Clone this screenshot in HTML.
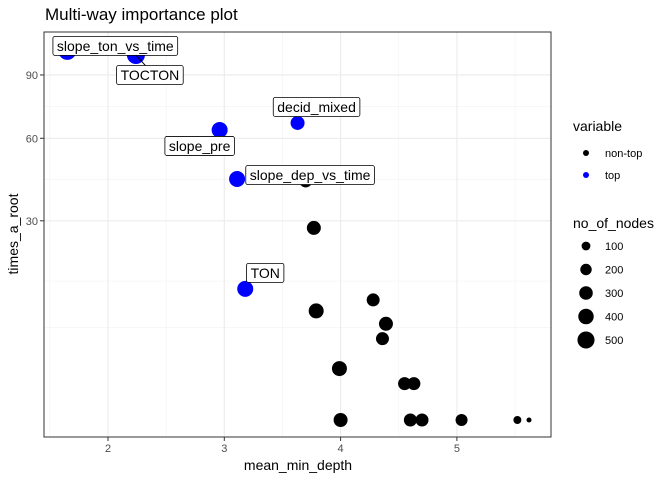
<!DOCTYPE html>
<html><head><meta charset="utf-8"><style>
body{margin:0;background:#fff;font-family:"Liberation Sans",sans-serif}
svg text{font-family:"Liberation Sans",sans-serif}
</style></head><body>
<svg id="chart" width="672" height="480" xmlns="http://www.w3.org/2000/svg">
<text x="45" y="20" font-size="17" fill="#000">Multi-way importance plot</text>
<g id="grid"></g>
<g id="pts"></g>
<g id="labels"></g>
<rect x="44" y="32" width="507" height="405" fill="none" stroke="#333" stroke-width="1"/>
<g id="axes"></g>
<text x="298" y="470" font-size="14" text-anchor="middle">mean_min_depth</text>
<text transform="translate(18,234) rotate(-90)" font-size="14" text-anchor="middle">times_a_root</text>
<g>
<text x="573" y="131" font-size="14">variable</text>
<circle cx="586" cy="153" r="3" fill="#000"/><text x="605" y="157" font-size="11">non-top</text>
<circle cx="586" cy="175" r="3" fill="#0000ff"/><text x="605" y="179" font-size="11">top</text>
</g>
<g id="sizeLegend">
<text x="573" y="228" font-size="14">no_of_nodes</text>
</g>
</svg>
<script>
const xs=[1.65,2.24,2.96,3.63,3.11,3.70,3.77,3.18,4.28,3.79,4.39,4.36,3.99,4.55,4.63,4.00,4.60,4.70,5.04,5.52,5.62];
const ys=[103,100.7,63.6,66.7,43.9,43.2,27.9,13.0,10.9,9.0,7.0,5.0,2.0,1.0,1.0,0,0,0,0,0,0];
const nodes=[560,560,433,321,433,271,321,433,271,375,321,271,375,271,271,321,271,271,224,74,2];
const isTop=[1,1,1,1,1,0,0,1,0,0,0,0,0,0,0,0,0,0,0,0,0];
const labelNames=["slope_ton_vs_time","TOCTON","slope_pre","decid_mixed","slope_dep_vs_time","TON"];
const labelIdx=[0,1,2,3,4,7];
const labelDx=[48,14,-20,19,73,20];
const labelDy=[-5,20,16,-16,-4,-16];
const xTicks=[2,3,4,5];
const yTicks=[30,60,90];
const xMinor=[1.5,2.5,3.5,4.5,5.5];
const yMinor=[6.5,14.6,43.7,74.2];
const legendN=[100,200,300,400,500];
const sx=v=>108+(v-2)*116.3;
const sy=v=>420-36.37*Math.sqrt(v);
const sr=n=>Math.sqrt(6.25+(n-2)/558*74.75);
const NS="http://www.w3.org/2000/svg";
function mk(tag,attrs,parent){const e=document.createElementNS(NS,tag);for(const k in attrs)e.setAttribute(k,attrs[k]);parent.appendChild(e);return e;}
const grid=document.getElementById('grid'),pts=document.getElementById('pts'),labs=document.getElementById('labels'),axes=document.getElementById('axes');
mk('rect',{x:44,y:32,width:507,height:405,fill:'#fff'},grid);
xMinor.forEach(v=>{const l=mk('line',{x1:sx(v),x2:sx(v),y1:32,y2:437,stroke:'#f2f2f2','stroke-width':0.6},grid);

});
yMinor.forEach(v=>{const l=mk('line',{x1:44,x2:551,y1:sy(v),y2:sy(v),stroke:'#f2f2f2','stroke-width':0.6},grid);

});
xTicks.forEach(v=>{const l=mk('line',{x1:sx(v),x2:sx(v),y1:32,y2:437,stroke:'#ebebeb','stroke-width':1.1},grid);


mk('line',{x1:sx(v),x2:sx(v),y1:437,y2:441,stroke:'#333'},axes);
const t=mk('text',{x:sx(v),y:452,'font-size':11,fill:'#4d4d4d','text-anchor':'middle'},axes);t.textContent=v;

});
yTicks.forEach(v=>{const l=mk('line',{x1:44,x2:551,y1:sy(v),y2:sy(v),stroke:'#ebebeb','stroke-width':1.1},grid);


mk('line',{x1:40,x2:44,y1:sy(v),y2:sy(v),stroke:'#333'},axes);
const t=mk('text',{x:38,y:sy(v)+4,'font-size':11,fill:'#4d4d4d','text-anchor':'end'},axes);t.textContent=v;

});
xs.forEach((x,i)=>{const c=mk('circle',{cx:sx(x),cy:sy(ys[i]),r:sr(nodes[i]),fill:isTop[i]?'#0000ff':'#000'},pts);

});
labelNames.forEach((name,j)=>{const i=labelIdx[j];const px=sx(xs[i]),py=sy(ys[i]);
const cx=px+labelDx[j],cy=py+labelDy[j];
const g=mk('g',{},labs);


if(j===1)mk('line',{x1:px,y1:py,x2:cx-4,y2:cy-9,stroke:'#000'},g);
const r=mk('rect',{x:0,y:cy-9.5,width:0,height:19,rx:2,fill:'#fff',stroke:'#000','stroke-width':0.8},g);
const t=mk('text',{x:cx,y:cy+5,'font-size':14,'text-anchor':'middle'},g);t.textContent=name;
const w=t.getComputedTextLength()+8;
r.setAttribute('x',cx-w/2);r.setAttribute('width',w);});
const sl=document.getElementById('sizeLegend');
legendN.forEach((n,i)=>{const y=246+i*23.5;
mk('circle',{cx:586,cy:y,r:sr(n)},sl);
const t=mk('text',{x:605,y:y+4,'font-size':11},sl);t.textContent=n;});
</script>
</body></html>
